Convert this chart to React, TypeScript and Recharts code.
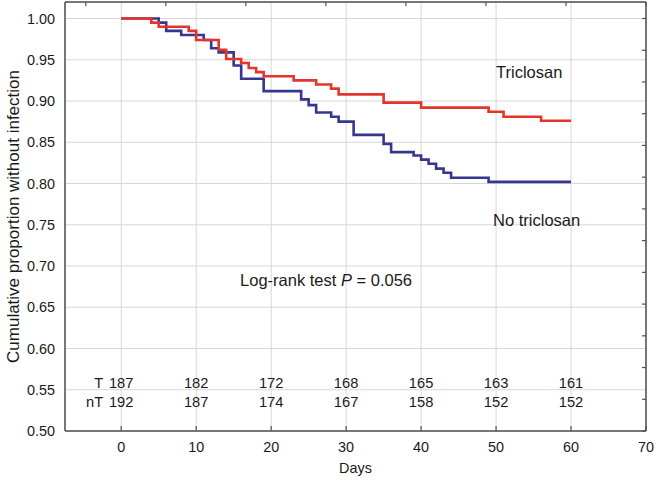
import React from "react";
import {
  ComposedChart,
  Line,
  Scatter,
  XAxis,
  YAxis,
  CartesianGrid,
  Label,
} from "recharts";

// Kaplan-Meier steps (day of drop, proportion after drop)
const TRICLOSAN_DAYS = [0, 4, 5, 9, 10, 13, 14, 16, 17, 18, 19, 23, 26, 28, 29, 35, 40, 49, 51, 56, 60];
const TRICLOSAN_SURV = [1.0, 0.995, 0.99, 0.985, 0.974, 0.962, 0.951, 0.946, 0.94, 0.935, 0.93, 0.925, 0.92, 0.915, 0.908, 0.898, 0.892, 0.887, 0.881, 0.876, 0.876];

const NO_TRICLOSAN_DAYS = [0, 5, 6, 8, 11, 12, 13, 15, 16, 19, 24, 25, 26, 28, 29, 31, 35, 36, 39, 40, 41, 42, 43, 44, 49, 60];
const NO_TRICLOSAN_SURV = [1.0, 0.995, 0.985, 0.98, 0.974, 0.964, 0.959, 0.943, 0.927, 0.912, 0.902, 0.895, 0.886, 0.881, 0.875, 0.859, 0.848, 0.838, 0.834, 0.829, 0.824, 0.818, 0.813, 0.807, 0.802, 0.802];

// numbers at risk
const RISK_DAYS = [0, 10, 20, 30, 40, 50, 60];
const RISK_T = [187, 182, 172, 168, 165, 163, 161];
const RISK_NT = [192, 187, 174, 167, 158, 152, 152];
const RISK_LABELS = ["T", "nT"];

const X_TICKS = [0, 10, 20, 30, 40, 50, 60, 70];
const Y_TICKS = [0.5, 0.55, 0.6, 0.65, 0.7, 0.75, 0.8, 0.85, 0.9, 0.95, 1.0];
const TOP_TICKS = [0, 1, 2, 3, 4, 5, 6, 7];
const RIGHT_TICKS = [0, 1, 2, 3, 4, 5, 6, 7, 8, 9, 10, 11, 12, 13];

// layout constants (data coordinates)
const X_DOMAIN: [number, number] = [-7.5, 70];
const Y_DOMAIN: [number, number] = [0.5, 1.02];
const TOP_DOMAIN: [number, number] = [-0.26, 7];
const RIGHT_DOMAIN: [number, number] = [0, 13.52];
const ROW_T_Y = 0.558;
const ROW_NT_Y = 0.535;
const ROW_LABEL_DAY = -2.4;

const FONT = "'Liberation Sans', Arial, sans-serif";
const TXT = "#1a1a1a";
const AXIS = "#505050";
const GRID = "#d7d7d7";
const RED = "#e5342a";
const BLUE = "#36368f";

const toPoints = (days: number[], surv: number[]) =>
  days.map((d, i) => ({ day: d, v: surv[i] }));

const triclosan = toPoints(TRICLOSAN_DAYS, TRICLOSAN_SURV);
const noTriclosan = toPoints(NO_TRICLOSAN_DAYS, NO_TRICLOSAN_SURV);
const rowT = RISK_DAYS.map((d, i) => ({ day: d, v: ROW_T_Y, n: RISK_T[i] }));
const rowNT = RISK_DAYS.map((d, i) => ({ day: d, v: ROW_NT_Y, n: RISK_NT[i] }));
const rowLabels = [
  { day: ROW_LABEL_DAY, v: ROW_T_Y, n: RISK_LABELS[0] },
  { day: ROW_LABEL_DAY, v: ROW_NT_Y, n: RISK_LABELS[1] },
];
const lblTriclosan = [{ day: 50, v: 0.935, n: "Triclosan" }];
const lblNoTriclosan = [{ day: 49.6, v: 0.756, n: "No triclosan" }];
const lblLogRank = [{ day: 15.85, v: 0.683 }];
// anchor point so the frame axes (top / right) have a series bound to them
const frameAnchor = [{ day: 0, v: 0 }];

const BottomTick = (p: any) => (
  <g>
    <line x1={p.x} y1={p.y} x2={p.x} y2={p.y - 5} stroke={AXIS} strokeWidth={1.2} />
    <text x={p.x} y={p.y + 16} dy="0.35em" textAnchor="middle" fontSize={14.4} fontFamily={FONT} fill={TXT}>
      {p.payload.value}
    </text>
  </g>
);

const TopTick = (p: any) => (
  <line x1={p.x} y1={p.y} x2={p.x} y2={p.y + 4} stroke={AXIS} strokeWidth={1.2} />
);

const RightTick = (p: any) => (
  <line x1={p.x} y1={p.y} x2={p.x - 4} y2={p.y} stroke={AXIS} strokeWidth={1.2} />
);

const textShape = (anchor: string, size: number) => (p: any) => (
  <text x={p.cx} y={p.cy} dy="0.35em" textAnchor={anchor} fontSize={size} fontFamily={FONT} fill={TXT}>
    {p.payload.n}
  </text>
);

const logRankShape = (p: any) => (
  <text x={p.cx} y={p.cy} dy="0.35em" textAnchor="start" fontSize={16.5} fontFamily={FONT} fill={TXT}>
    <tspan>Log-rank test </tspan>
    <tspan fontStyle="italic">P</tspan>
    <tspan> = 0.056</tspan>
  </text>
);

export default function App() {
  return (
    <div style={{ position: "absolute", left: 0, top: 0, width: 656, height: 485, background: "#fff" }}>
      <ComposedChart width={656} height={485} margin={{ top: 1, right: 9, bottom: 0, left: 0 }}>
        <CartesianGrid stroke={GRID} strokeWidth={1} />
        <XAxis
          dataKey="day"
          type="number"
          domain={X_DOMAIN}
          ticks={X_TICKS}
          interval={0}
          allowDataOverflow
          height={54}
          tickSize={0}
          tickMargin={0}
          tickLine={false}
          tick={<BottomTick />}
          axisLine={{ stroke: AXIS, strokeWidth: 1.5 }}
        >
          <Label value="Days" position="insideBottom" offset={12} fontSize={14.4} fontFamily={FONT} fill={TXT} />
        </XAxis>
        <XAxis
          xAxisId="top"
          dataKey="day"
          orientation="top"
          type="number"
          domain={TOP_DOMAIN}
          ticks={TOP_TICKS}
          interval={0}
          allowDataOverflow
          height={1}
          tickSize={0}
          tickMargin={0}
          tickLine={false}
          tick={<TopTick />}
          axisLine={{ stroke: AXIS, strokeWidth: 1.5 }}
        />
        <YAxis
          type="number"
          domain={Y_DOMAIN}
          ticks={Y_TICKS}
          interval={0}
          allowDataOverflow
          width={65}
          tickSize={0}
          tickMargin={10}
          tickLine={false}
          tickFormatter={(v: number) => v.toFixed(2)}
          tick={{ fontSize: 14.4, fontFamily: FONT, fill: TXT }}
          axisLine={{ stroke: AXIS, strokeWidth: 1.5 }}
        >
          <Label
            value="Cumulative proportion without infection"
            angle={-90}
            position="insideLeft"
            offset={13}
            fontSize={17}
            fontFamily={FONT}
            fill={TXT}
            style={{ textAnchor: "middle" }}
          />
        </YAxis>
        <YAxis
          yAxisId="right"
          orientation="right"
          type="number"
          domain={RIGHT_DOMAIN}
          ticks={RIGHT_TICKS}
          interval={0}
          allowDataOverflow
          width={1}
          tickSize={0}
          tickMargin={0}
          tickLine={false}
          tick={<RightTick />}
          axisLine={{ stroke: AXIS, strokeWidth: 1.5 }}
        />

        <Scatter
          xAxisId="top"
          yAxisId="right"
          data={frameAnchor}
          dataKey="v"
          shape={() => <g />}
          isAnimationActive={false}
        />

        <Line data={noTriclosan} dataKey="v" type="stepAfter" stroke={BLUE} strokeWidth={2.6} dot={false} isAnimationActive={false} />
        <Line data={triclosan} dataKey="v" type="stepAfter" stroke={RED} strokeWidth={2.6} dot={false} isAnimationActive={false} />

        <Scatter data={rowT} dataKey="v" shape={textShape("middle", 14.7)} isAnimationActive={false} />
        <Scatter data={rowNT} dataKey="v" shape={textShape("middle", 14.7)} isAnimationActive={false} />
        <Scatter data={rowLabels} dataKey="v" shape={textShape("end", 14.7)} isAnimationActive={false} />
        <Scatter data={lblTriclosan} dataKey="v" shape={textShape("start", 16.5)} isAnimationActive={false} />
        <Scatter data={lblNoTriclosan} dataKey="v" shape={textShape("start", 16.5)} isAnimationActive={false} />
        <Scatter data={lblLogRank} dataKey="v" shape={logRankShape} isAnimationActive={false} />
      </ComposedChart>
    </div>
  );
}
